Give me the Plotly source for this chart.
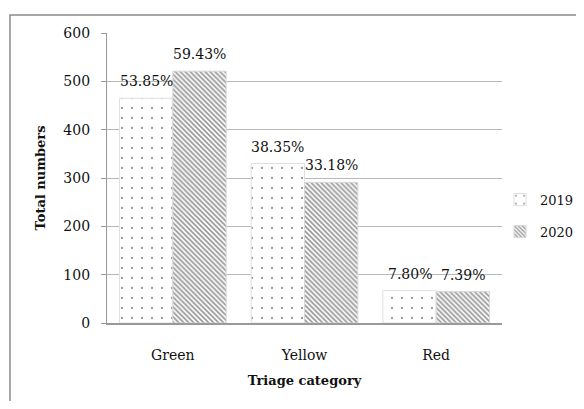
import plotly.graph_objects as go

categories = ["Green", "Yellow", "Red"]
values_2019 = [465, 330, 67]
values_2020 = [521, 291, 65]
labels_2019 = ["53.85%", "38.35%", "7.80%"]
labels_2020 = ["59.43%", "33.18%", "7.39%"]
y_ticks = [0, 100, 200, 300, 400, 500, 600]

# page is rendered with an 8px body margin; keep the figure inside the window
W, H = 568, 393
ML, MR, MT, MB = 99, 74, 25, 78
FONT = "DejaVu Serif"
TXT = "#111111"

fig = go.Figure()
fig.add_trace(go.Bar(
    name="2019", x=categories, y=values_2019, legendgroup="2019",
    marker=dict(color="white", line=dict(color="#e0e0e0", width=1),
                pattern=dict(shape=".", fgcolor="#333333", bgcolor="white",
                             size=10, solidity=0.04, fillmode="overlay")),
))
fig.add_trace(go.Bar(
    name="2020", x=categories, y=values_2020, legendgroup="2020",
    marker=dict(color="white", line=dict(color="#d8d8d8", width=1),
                pattern=dict(shape="\\", fgcolor="#333333", bgcolor="white",
                             size=3.5, solidity=0.5, fillmode="overlay")),
))

plot_w = W - ML - MR
plot_h = H - MT - MB
group_off = plot_w / len(categories) * (1 - 0.19) / 4
for cat, v, lab in zip(categories, values_2019, labels_2019):
    fig.add_annotation(x=cat, y=v, text=lab, showarrow=False, xshift=-group_off,
                       yshift=17, font=dict(family=FONT, size=14, color=TXT))
for cat, v, lab in zip(categories, values_2020, labels_2020):
    fig.add_annotation(x=cat, y=v, text=lab, showarrow=False, xshift=group_off,
                       yshift=17, font=dict(family=FONT, size=14, color=TXT))

fig.add_shape(type="rect", xref="paper", yref="paper",
              x0=(2 - ML) / plot_w, x1=(640 - ML) / plot_w,
              y0=-0.5, y1=(H - MB - 7) / plot_h,
              line=dict(color="#8a8a8a", width=1.5), layer="below")

fig.update_layout(
    width=W, height=H,
    margin=dict(l=ML, r=MR, t=MT, b=MB, autoexpand=False),
    paper_bgcolor="white", plot_bgcolor="white",
    barmode="group", bargap=0.19, bargroupgap=0,
    font=dict(family=FONT, size=14, color=TXT),
    showlegend=True,
    legend=dict(x=0.995, y=0.37, xanchor="left", yanchor="middle",
                font=dict(family=FONT, size=13, color=TXT),
                itemwidth=30, tracegroupgap=12, bgcolor="rgba(0,0,0,0)"),
    xaxis=dict(showline=True, linecolor="#999999", linewidth=1.5,
               ticks="", ticklabelstandoff=18, automargin=False,
               tickfont=dict(family=FONT, size=14, color=TXT),
               title=dict(text="<b>Triage category</b>", standoff=14,
                          font=dict(family=FONT, size=13, color=TXT))),
    yaxis=dict(range=[0, 600], tickvals=y_ticks, showgrid=True,
               gridcolor="#b8b8b8", gridwidth=1.2, automargin=False,
               showline=True, linecolor="#999999", linewidth=1.2,
               ticks="outside", ticklen=5, tickcolor="#999999",
               ticklabelstandoff=8, zeroline=False,
               tickfont=dict(family=FONT, size=14, color=TXT),
               title=dict(text="<b>Total numbers</b>", standoff=14,
                          font=dict(family=FONT, size=13, color=TXT))),
)

fig.write_html("out.html")
